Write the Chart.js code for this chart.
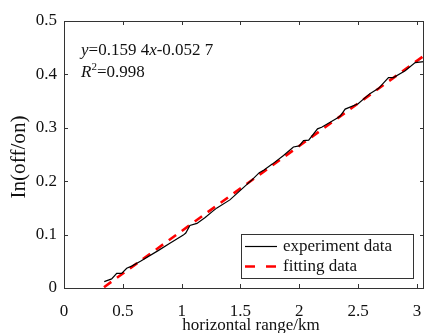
<!DOCTYPE html>
<html lang="en">
<head>
    <meta charset="UTF-8">
    <title>ln(off/on) vs horizontal range</title>
    <script src="https://cdn.jsdelivr.net/npm/chart.js"></script>
    <style>
        body, html {
            margin: 0;
            padding: 0;
            background: #fff;
        }
        .chart-container {
            width: 425px;
            height: 333px;
        }
    </style>
</head>
<body>
    <div class="chart-container">
        <canvas id="fitChart" width="425" height="333"></canvas>
    </div>

    <script>
        // experiment data
        const expX = [0.342, 0.405, 0.448, 0.490, 0.533, 0.575, 0.65, 0.80, 0.90, 1.014,
                      1.035, 1.07, 1.13, 1.20, 1.26, 1.30, 1.41, 1.52, 1.60, 1.66,
                      1.70, 1.77, 1.866, 1.95, 2.00, 2.036, 2.08, 2.155, 2.19, 2.32,
                      2.348, 2.39, 2.50, 2.60, 2.674, 2.758, 2.80, 2.90, 2.985, 3.06];
        const expY = [0.012, 0.017, 0.0275, 0.0275, 0.037, 0.041, 0.050, 0.070, 0.084, 0.099,
                      0.103, 0.117, 0.121, 0.132, 0.143, 0.150, 0.165, 0.187, 0.203, 0.216,
                      0.221, 0.232, 0.248, 0.264, 0.266, 0.276, 0.277, 0.298, 0.301, 0.318,
                      0.322, 0.335, 0.345, 0.364, 0.374, 0.394, 0.394, 0.407, 0.422, 0.424];

        // fitted line end points
        const fitX = [0.34, 3.06];
        const fitY = [0.0015, 0.435];

        const xTicks = [0, 0.5, 1, 1.5, 2, 2.5, 3];
        const xTickLabels = ['0', '0.5', '1', '1.5', '2', '2.5', '3'];
        const yTicks = [0, 0.1, 0.2, 0.3, 0.4, 0.5];
        const yTickLabels = ['0', '0.1', '0.2', '0.3', '0.4', '0.5'];

        const seriesNames = ['experiment data', 'fitting data'];

        const serif = '"Liberation Serif", "Times New Roman", serif';
        const axisColor = '#333333';

        const toPoints = (xs, ys) => xs.map((x, i) => ({ x: x, y: ys[i] }));

        // inward ticks on all four sides + box, titles, equation, legend
        const decorations = {
            id: 'decorations',
            afterDraw(chart) {
                const ctx = chart.ctx;
                const a = chart.chartArea;
                const xs = chart.scales.x;
                const ys = chart.scales.y;
                const tl = 4;
                ctx.save();
                ctx.strokeStyle = axisColor;
                ctx.lineWidth = 1;
                ctx.beginPath();
                xs.ticks.forEach(t => {
                    const px = Math.round(xs.getPixelForValue(t.value)) + 0.5;
                    ctx.moveTo(px, a.bottom); ctx.lineTo(px, a.bottom - tl);
                    ctx.moveTo(px, a.top); ctx.lineTo(px, a.top + tl);
                });
                ys.ticks.forEach(t => {
                    const py = Math.round(ys.getPixelForValue(t.value)) + 0.5;
                    ctx.moveTo(a.left, py); ctx.lineTo(a.left + tl, py);
                    ctx.moveTo(a.right, py); ctx.lineTo(a.right - tl, py);
                });
                ctx.stroke();
                ctx.strokeRect(Math.round(a.left) + 0.5, Math.round(a.top) + 0.5,
                    Math.round(a.right - a.left) - 1, Math.round(a.bottom - a.top));

                // axis titles
                ctx.fillStyle = '#111';
                ctx.font = '17px ' + serif;
                ctx.textAlign = 'center';
                ctx.textBaseline = 'alphabetic';
                ctx.fillText('horizontal range/km', 251, 330);
                ctx.save();
                ctx.translate(20, 157);
                ctx.rotate(-Math.PI / 2);
                ctx.scale(1.06, 1);
                ctx.font = '20px ' + serif;
                ctx.textBaseline = 'middle';
                ctx.fillText('In(off/on)', 0, 0);
                ctx.restore();

                // equation text
                const runs = (parts, x, y) => {
                    ctx.textAlign = 'left';
                    parts.forEach(p => {
                        ctx.font = (p.it ? 'italic ' : '') + (p.size || 17) + 'px ' + serif;
                        ctx.fillText(p.t, x, y + (p.dy || 0));
                        x += ctx.measureText(p.t).width;
                    });
                };
                runs([{ t: 'y', it: true }, { t: '=0.159 4' }, { t: 'x', it: true }, { t: '-0.052 7' }], 81, 55);
                runs([{ t: 'R', it: true }, { t: '2', size: 11, dy: -7 }, { t: '=0.998' }], 81, 77);

                // legend box
                const lx = 241, ly = 234, lw = 172, lh = 44;
                ctx.fillStyle = '#fff';
                ctx.fillRect(lx, ly, lw, lh);
                ctx.strokeStyle = axisColor;
                ctx.strokeRect(lx + 0.5, ly + 0.5, lw, lh);
                chart.data.datasets.forEach((ds, i) => {
                    const yy = ly + 12.5 + i * 20;
                    ctx.beginPath();
                    ctx.strokeStyle = ds.borderColor;
                    ctx.lineWidth = ds.borderWidth;
                    ctx.setLineDash(i === 1 ? [10, 11] : []);
                    ctx.moveTo(245, yy);
                    ctx.lineTo(277, yy);
                    ctx.stroke();
                    ctx.setLineDash([]);
                    ctx.fillStyle = '#111';
                    ctx.font = '17px ' + serif;
                    ctx.textBaseline = 'middle';
                    ctx.fillText(ds.label, 283, yy);
                });
                ctx.restore();
            }
        };

        const ctx = document.getElementById('fitChart').getContext('2d');
        const fitChart = new Chart(ctx, {
            type: 'scatter',
            data: {
                datasets: [
                    {
                        label: seriesNames[0],
                        data: toPoints(expX, expY),
                        showLine: true,
                        borderColor: '#000000',
                        borderWidth: 1.2,
                        pointRadius: 0,
                        tension: 0
                    },
                    {
                        label: seriesNames[1],
                        data: toPoints(fitX, fitY),
                        showLine: true,
                        borderColor: '#ff0000',
                        borderWidth: 2.6,
                        borderDash: [9, 7],
                        pointRadius: 0
                    }
                ]
            },
            options: {
                responsive: false,
                animation: false,
                devicePixelRatio: 1,
                layout: { padding: { top: 21, right: 1, left: 0, bottom: 0 } },
                plugins: {
                    legend: { display: false },
                    tooltip: { enabled: false }
                },
                scales: {
                    x: {
                        type: 'linear',
                        min: 0,
                        max: 3.06,
                        afterBuildTicks: s => { s.ticks = xTicks.map(v => ({ value: v })); },
                        afterFit: s => {
                            s.height = 45;
                            s.paddingLeft = 0; s.paddingRight = 0;
                            s.paddingTop = 0; s.paddingBottom = 0;
                        },
                        grid: { display: false, drawTicks: false },
                        border: { display: false },
                        ticks: {
                            padding: 13,
                            color: '#111',
                            font: { family: serif, size: 17 },
                            callback: (v, i) => xTickLabels[i]
                        }
                    },
                    y: {
                        type: 'linear',
                        min: 0,
                        max: 0.5,
                        afterBuildTicks: s => { s.ticks = yTicks.map(v => ({ value: v })); },
                        afterFit: s => {
                            s.width = 64;
                            s.paddingLeft = 0; s.paddingRight = 0;
                            s.paddingTop = 0; s.paddingBottom = 0;
                        },
                        grid: { display: false, drawTicks: false },
                        border: { display: false },
                        ticks: {
                            padding: 7,
                            color: '#111',
                            font: { family: serif, size: 17 },
                            callback: (v, i) => yTickLabels[i]
                        }
                    }
                }
            },
            plugins: [decorations]
        });
    </script>
</body>
</html>
